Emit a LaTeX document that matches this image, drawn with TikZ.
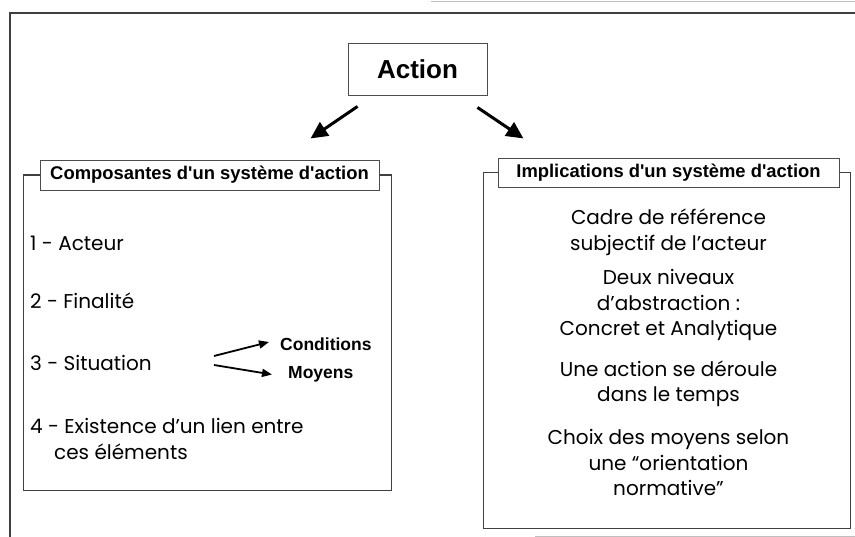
\documentclass[tikz,border=0pt]{standalone}
\usepackage{fontspec}
\setmainfont{Poppins}
\newfontfamily\titlefont{Liberation Sans}
\usetikzlibrary{arrows.meta, calc, positioning}

\begin{document}
\begin{tikzpicture}[x=1pt, y=-1pt,
 box/.style={draw=black!70, line width=0.9pt, inner sep=0pt},
 titlebox/.style={box, font=\titlefont\bfseries\fontsize{18.4}{22}\selectfont},
 frame/.style={draw=black!75, line width=1.1pt},
 item/.style={inner sep=0pt, font=\fontsize{20}{25.5}\selectfont},
 sub/.style={inner sep=0pt, font=\titlefont\bfseries\fontsize{17.5}{20}\selectfont},
 bigarrow/.style={line width=3pt, -{Triangle[length=17pt,width=16pt]}},
 smallarrow/.style={line width=1.8pt, -{Triangle[length=10pt,width=8pt]}},
 ]
 \useasboundingbox (0,0) rectangle (855,537);

 % cadre de la page
 \draw[frame] (10,537) -- (10,13) -- (855,13);
 \draw[black!25, line width=1pt] (431,2) -- (855,2);
 \draw[black!25, line width=1pt] (535,536) -- (855,536);

 \node[box, minimum width=139pt, minimum height=52pt,
  font=\titlefont\bfseries\fontsize{26}{30}\selectfont] (action) at (417.5,69) {Action};

 \node[titlebox, minimum width=339pt, minimum height=30pt] (comptitle)
  at (209.5,175) {Composantes d'un système d'action};
 \node[titlebox, minimum width=341pt, minimum height=29pt] (impltitle)
  at (668.5,172.5) {Implications d'un système d'action};

 \draw[bigarrow] ($(action.south west)+(10,11)$) -- ($(action.south west)+(-37,43)$);
 \draw[bigarrow] ($(action.south east)+(-10,12)$) -- ($(action.south east)+(36,43)$);

 % composantes
 \node[item, anchor=west] (acteur) at (30,243) {1 - Acteur};
 \node[item, anchor=west] (finalite) at (30,301) {2 - Finalité};
 \node[item, anchor=west] (situation) at (30,363) {3 - Situation};
 \node[item, anchor=west, align=left] (lien) at (30,439)
  {4 - Existence d’un lien entre\\\hspace*{24pt}ces éléments};
 \node[sub, anchor=west] (cond) at (280,344) {Conditions};
 \node[sub, anchor=west] (moyens) at (288,374.5) {Moyens};

 \coordinate (situp) at (214,356);
 \coordinate (sitdown) at (214,365);
 \draw[smallarrow] (situp) -- ([xshift=-11pt, yshift=2pt]cond.west);
 \draw[smallarrow] (sitdown) -- ([xshift=-16pt]moyens.west);

 \draw[frame] (comptitle.west) -| ($(comptitle.south west)+(-16,300)$)
  -| ($(comptitle.east)+(12,0)$) -- (comptitle.east);

 % implications
 \node[item, align=center] (cadre) at (668.5,232.5)
  {Cadre de référence\\subjectif de l’acteur};
 \node[item, align=center] (niveaux) at (668.5,305)
  {Deux niveaux\\d’abstraction :\\Concret et Analytique};
 \node[item, align=center] (temps) at (668.5,384)
  {Une action se déroule\\dans le temps};
 \node[item, align=center] (choix) at (668.5,462.5)
  {Choix des moyens selon\\une “orientation\\normative”};

 \draw[frame] (impltitle.west) -| ($(impltitle.south west)+(-14,341)$)
  -| ($(impltitle.east)+(11,0)$) -- (impltitle.east);

\end{tikzpicture}
\end{document}
